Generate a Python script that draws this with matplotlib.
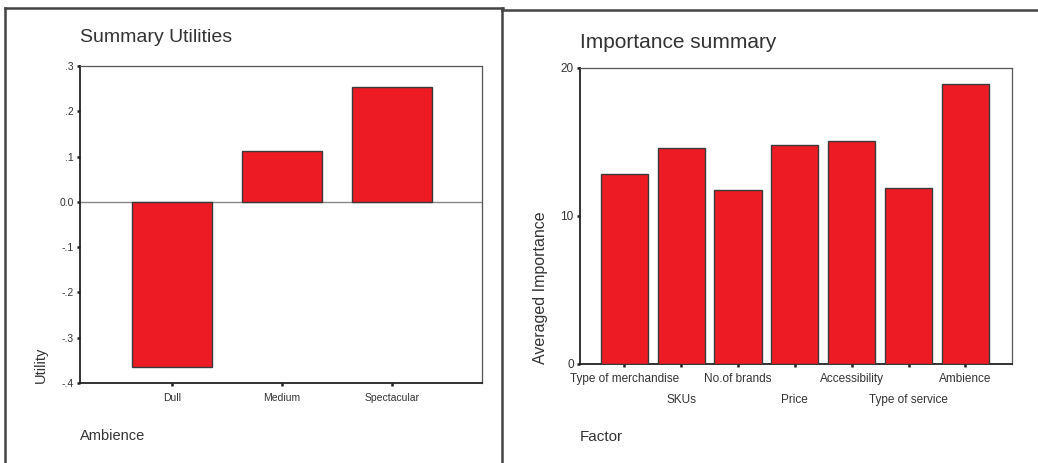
import matplotlib
matplotlib.use("Agg")
import matplotlib.pyplot as plt
from matplotlib.lines import Line2D

plt.rcParams['font.family'] = ['Liberation Sans', 'DejaVu Sans']

# Summary utilities (Ambience levels)
levels = ["Dull", "Medium", "Spectacular"]
utilities = [-0.364, 0.113, 0.254]
util_ticks = [-0.4, -0.3, -0.2, -0.1, 0.0, 0.1, 0.2, 0.3]
util_ticklabels = ["-.4", "-.3", "-.2", "-.1", "0.0", ".1", ".2", ".3"]

# Importance summary
factors = ["Type of merchandise", "SKUs", "No.of brands", "Price",
           "Accessibility", "Type of service", "Ambience"]
importance = [12.84, 14.6, 11.76, 14.8, 15.07, 11.89, 18.92]
imp_ticks = [0, 10, 20]

bar_col = "#ED1C24"
edge_col = "#3a3a3a"
txt_col = "#333333"

W, H = 1038, 463
fig = plt.figure(figsize=(W / 100, H / 100), dpi=100)


def style_axes(ax):
    for s in ["top", "right"]:
        ax.spines[s].set_color("#555555")
        ax.spines[s].set_linewidth(0.9)
    for s in ["left", "bottom"]:
        ax.spines[s].set_color("#222222")
        ax.spines[s].set_linewidth(1.3)
    ax.tick_params(length=2.5, width=1.8, color="#222222", labelcolor=txt_col)


# left panel
ax1 = fig.add_axes([80 / W, 1 - 383 / H, 402 / W, 317 / H])
x1 = range(len(levels))
ax1.bar(x1, utilities, width=0.735, color=bar_col, edgecolor=edge_col, linewidth=1, zorder=3)
ax1.axhline(0, color="#888888", linewidth=1, zorder=2)
ax1.set_xlim(-0.836, 2.818)
ax1.set_ylim(-0.4, 0.3)
ax1.set_yticks(util_ticks)
ax1.set_yticklabels(util_ticklabels)
ax1.set_xticks(list(x1))
ax1.set_xticklabels(levels)
style_axes(ax1)
ax1.tick_params(axis="y", labelsize=7.5, pad=2)
ax1.tick_params(axis="x", labelsize=7.5, pad=5)

fig.text(80 / W, 1 - 38 / H, "Summary Utilities", fontsize=14, color=txt_col, va="center", ha="left")
fig.text(41 / W, 1 - 383 / H, "Utility", fontsize=10.5, color=txt_col, rotation=90, va="bottom", ha="center")
fig.text(80 / W, 1 - 436 / H, "Ambience", fontsize=10.5, color=txt_col, va="center", ha="left")

# right panel
ax2 = fig.add_axes([580 / W, 1 - 364 / H, 432 / W, 296 / H])
x2 = range(len(factors))
ax2.bar(x2, importance, width=0.83, color=bar_col, edgecolor=edge_col, linewidth=1, zorder=3)
ax2.set_xlim(-0.78, 6.82)
ax2.set_ylim(0, 20)
ax2.set_yticks(imp_ticks)
ax2.set_xticks(list(x2))
ax2.set_xticklabels(factors)
style_axes(ax2)
ax2.tick_params(axis="y", labelsize=8.5, pad=2)
ax2.tick_params(axis="x", labelsize=8.5, pad=4)
# stagger the factor names on two rows
for i, tick in enumerate(ax2.xaxis.get_major_ticks()):
    if i % 2:
        tick.set_pad(19)

fig.text(580 / W, 1 - 42 / H, "Importance summary", fontsize=15, color=txt_col, va="center", ha="left")
fig.text(540 / W, 1 - 364 / H, "Averaged Importance", fontsize=11.5, color=txt_col, rotation=90, va="bottom", ha="center")
fig.text(580 / W, 1 - 437 / H, "Factor", fontsize=11, color=txt_col, va="center", ha="left")

# panel frames
frame_kw = dict(color="#444444", linewidth=1.8, transform=fig.transFigure)
fig.add_artist(Line2D([5 / W, 5 / W], [0, 1 - 8 / H], **frame_kw))
fig.add_artist(Line2D([5 / W, 503 / W], [1 - 8 / H, 1 - 8 / H], **frame_kw))
fig.add_artist(Line2D([502 / W, 502 / W], [0, 1 - 8 / H], **frame_kw))
fig.add_artist(Line2D([502 / W, 1.0], [1 - 10 / H, 1 - 10 / H], **frame_kw))

fig.savefig("out.png", dpi=100)
